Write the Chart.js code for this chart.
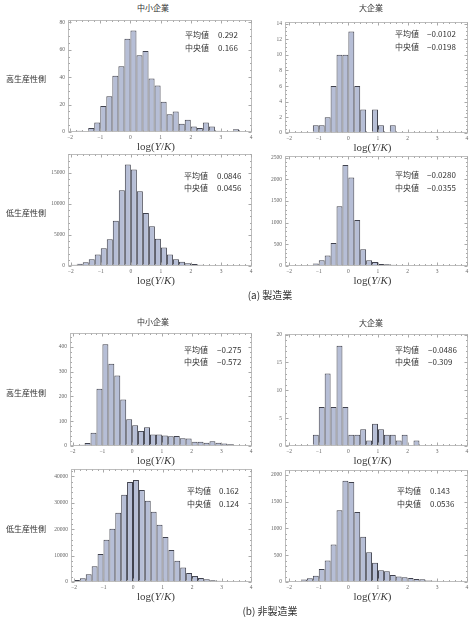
<!DOCTYPE html>
<html><head><meta charset="utf-8">
<script src="https://cdn.jsdelivr.net/npm/chart.js@4.4.1/dist/chart.umd.min.js"></script>
<style>
html,body{margin:0;padding:0;background:#fff;}
body{width:473px;height:619px;position:relative;overflow:hidden;font-family:"Noto Sans CJK JP","Noto Sans",sans-serif;color:#333;}
.t{position:absolute;white-space:nowrap;line-height:1;}
.c{transform:translate(-50%,-50%);}
.l{transform:translate(0,-50%);}
canvas{position:absolute;}
.xl{font-family:"Liberation Serif","DejaVu Serif",serif;font-size:11px;color:#3a3a3a;}
</style></head><body>
<script>
// ---- data ----
const binStart = -2.0;
const binWidth = 0.2;
// counts per 0.2-wide bin starting at -2.0 (30 bins up to 4.0)
const mfgSmallHigh = [0,1,0,3,7,19,26,41,48,68,74,56,59,39,34,22,13,15,6,9,4,3,7,4,1,0,0,2,0,0];
const mfgLargeHigh = [0,0,0,0,1,1,2,6,10,10,13,6,3,0,3,1,0,1,0,0,0,0,0,0,0,0,0,0,0,0];
const mfgSmallLow  = [200,370,600,1100,1850,2850,4300,7300,12200,16350,15550,12050,8550,6400,4400,3000,1850,1100,700,430,320,220,160,130,100,80,65,55,45,40];
const mfgLargeLow  = [15,15,20,25,55,130,240,530,1380,2330,2040,1060,385,130,90,45,40,30,25,20,15,15,12,0,8,8,0,0,0,0];
const nonSmallHigh = [0,5,12,53,231,411,332,284,188,108,84,61,76,46,46,42,39,40,31,30,17,17,13,19,13,10,7,0,0,0];
const nonLargeHigh = [0,0,0,0,2,7,13,7,18,7,2,2,3,1,4,3,2,2,1,2,0,1,0,0,0,0,0,0,0,0];
const nonSmallLow  = [770,1400,2900,6000,10600,16000,20200,26200,33000,37850,38600,34800,30800,26600,21700,17000,12150,8050,5500,3450,2300,1550,1000,640,450,320,250,200,150,120];
const nonLargeLow  = [13,20,45,70,115,245,400,700,1340,1890,1870,1310,845,555,360,220,200,130,105,88,75,55,50,30,25,20,20,15,12,10];

const xTickValues = [-2,-1,0,1,2,3,4];
const yTicksMfgSmallHigh = [0,20,40,60,80];
const yTicksMfgLargeHigh = [0,2,4,6,8,10,12,14];
const yTicksMfgSmallLow  = [0,5000,10000,15000];
const yTicksMfgLargeLow  = [0,500,1000,1500,2000,2500];
const yTicksNonSmallHigh = [0,100,200,300,400];
const yTicksNonLargeHigh = [0,5,10,15,20];
const yTicksNonSmallLow  = [0,10000,20000,30000,40000];
const yTicksNonLargeLow  = [0,500,1000,1500,2000];

const statLabels = ['平均値','中央値'];
const meanValues   = ['0.292','−0.0102','0.0846','−0.0280','−0.275','−0.0486','0.162','0.143'];
const medianValues = ['0.166','−0.0198','0.0456','−0.0355','−0.572','−0.309','0.124','0.0536'];

const colTitles = ['中小企業','大企業'];
const rowTitles = ['高生産性側','低生産性側','高生産性側','低生産性側'];
const captions = ['(a) 製造業','(b) 非製造業'];
const axisLabelHTML = 'log(<i>Y</i>/<i>K</i>)';

// ---- layout (positions & styles only) ----
const panels = [
 {counts:mfgSmallHigh, yt:yTicksMfgSmallHigh, ymax:81.7,  minor:5,    L:68, R:252, T:20,  B:132, xmin:-2.07, xmax:4.03, sx:185, vx:218, sy:35,  k:0},
 {counts:mfgLargeHigh, yt:yTicksMfgLargeHigh, ymax:14.2,  minor:0.5,  L:285,R:468, T:22,  B:133, xmin:-2.14, xmax:4.04, sx:395, vx:427, sy:34,  k:1},
 {counts:mfgSmallLow,  yt:yTicksMfgSmallLow,  ymax:18050, minor:1000, L:68, R:252, T:154, B:266, xmin:-2.09, xmax:4.03, sx:184, vx:217, sy:175.5,k:2},
 {counts:mfgLargeLow,  yt:yTicksMfgLargeLow,  ymax:2539,  minor:100,  L:285,R:468, T:156, B:266, xmin:-2.14, xmax:4.04, sx:395, vx:427, sy:175, k:3},
 {counts:nonSmallHigh, yt:yTicksNonSmallHigh, ymax:456,   minor:20,   L:70, R:252, T:333, B:446, xmin:-2.09, xmax:4.03, sx:184, vx:217, sy:349.5,k:4},
 {counts:nonLargeHigh, yt:yTicksNonLargeHigh, ymax:20.1,  minor:1,    L:285,R:468, T:334, B:446, xmin:-2.14, xmax:4.04, sx:395, vx:428, sy:349.5,k:5},
 {counts:nonSmallLow,  yt:yTicksNonSmallLow,  ymax:42800, minor:2000, L:71, R:252, T:469, B:582, xmin:-2.1,  xmax:4.03, sx:187, vx:219, sy:491, k:6},
 {counts:nonLargeLow,  yt:yTicksNonLargeLow,  ymax:2093,  minor:100,  L:285,R:468, T:470, B:582, xmin:-2.14, xmax:4.04, sx:397, vx:430, sy:491, k:7}
];

function addText(html, x, y, cls, style){
  const d = document.createElement('div');
  d.className = 't ' + cls;
  d.innerHTML = html;
  d.style.left = x + 'px'; d.style.top = y + 'px';
  if (style) d.style.cssText += style;
  document.body.appendChild(d);
}

function fmt(v){ return v < 0 ? '−' + Math.abs(v) : String(v); }

const framePlugin = {
  id:'frame',
  afterDatasetsDraw(chart, args, opts){
    const {ctx, chartArea:a, scales:{x, y}} = chart;
    ctx.save();
    ctx.strokeStyle = '#bdbdbd'; ctx.lineWidth = 1;
    const l = Math.round(a.left) + 0.5, r = Math.round(a.right) - 0.5;
    const t = Math.round(a.top) + 0.5, b = Math.round(a.bottom) - 0.5;
    ctx.strokeRect(l, t, r - l, b - t);
    ctx.strokeStyle = '#a8a8a8';
    ctx.beginPath();
    for (let i = 0; i <= 30; i++) {
      const v = -2 + i * 0.2;
      const px = Math.round(x.getPixelForValue(v)) + 0.5;
      const len = (i % 5 === 0) ? 3 : 1.5;
      ctx.moveTo(px, b); ctx.lineTo(px, b - len);
      ctx.moveTo(px, t); ctx.lineTo(px, t + len);
    }
    const yt = opts.yt, step = yt[1] - yt[0], minor = opts.minor;
    for (let v = 0; v <= y.max + 1e-9; v += minor) {
      const py = Math.round(y.getPixelForValue(v)) + 0.5;
      const isMajor = Math.abs(v / step - Math.round(v / step)) < 1e-6;
      const len = isMajor ? 3 : 1.5;
      ctx.moveTo(l, py); ctx.lineTo(l + len, py);
      ctx.moveTo(r, py); ctx.lineTo(r - len, py);
    }
    ctx.stroke();
    ctx.restore();
  }
};

function makeChart(p){
  const padL = 24, padT = 3, padR = 3, padB = 11;
  const W = p.R - p.L, H = p.B - p.T;
  const cv = document.createElement('canvas');
  cv.width = W + padL + padR; cv.height = H + padT + padB;
  cv.style.left = (p.L - padL) + 'px'; cv.style.top = (p.T - padT) + 'px';
  cv.style.width = cv.width + 'px'; cv.style.height = cv.height + 'px';
  document.body.appendChild(cv);
  const pts = [];
  p.counts.forEach((c, i) => { if (c > 0) pts.push({x: binStart + binWidth * (i + 0.5), y: c}); });
  new Chart(cv, {
    type: 'bar',
    data: {datasets: [{data: pts, backgroundColor: '#b6bed6', borderColor: '#40424e',
      borderWidth: {top: 1, left: 1, right: 1, bottom: 0}, borderSkipped: false,
      barPercentage: 1, categoryPercentage: 1, inflateAmount: 0}]},
    options: {
      responsive: false, animation: false, maintainAspectRatio: false,
      layout: {padding: {left: 0, top: padT, right: padR, bottom: 0}},
      plugins: {legend: {display: false}, tooltip: {enabled: false}, frame: {yt: p.yt, minor: p.minor}},
      scales: {
        x: {type: 'linear', min: p.xmin, max: p.xmax, offset: false,
            grid: {display: false, drawTicks: false}, border: {display: false},
            afterBuildTicks(s){ s.ticks = xTickValues.map(v => ({value: v})); },
            afterFit(s){ s.height = padB; s.paddingLeft = 0; s.paddingRight = 0; },
            ticks: {font: {size: 5.5, family: 'Liberation Serif'}, color: '#666', padding: 2, maxRotation: 0, autoSkip: false,
                    callback: v => fmt(v)}},
        y: {type: 'linear', min: 0, max: p.ymax,
            grid: {display: false, drawTicks: false}, border: {display: false},
            afterBuildTicks(s){ s.ticks = p.yt.map(v => ({value: v})); },
            afterFit(s){ s.width = padL; s.paddingTop = 0; s.paddingBottom = 0; },
            ticks: {font: {size: 5.5, family: 'Liberation Serif'}, color: '#666', padding: 3, autoSkip: false,
                    callback: v => fmt(v)}}
      }
    },
    plugins: [framePlugin]
  });
  // stats text
  addText(statLabels[0], p.sx, p.sy, 'l', 'font-size:8px;');
  addText(meanValues[p.k], p.vx, p.sy, 'l', 'font-size:8px;');
  addText(statLabels[1], p.sx, p.sy + 12.5, 'l', 'font-size:8px;');
  addText(medianValues[p.k], p.vx, p.sy + 12.5, 'l', 'font-size:8px;');
  // axis label
  const cx = (p.k % 2 === 0) ? 156 : 372.5;
  addText(axisLabelHTML, cx, p.B + 14, 'c xl');
}

panels.forEach(makeChart);

// column titles
addText(colTitles[0], 153, 8, 'c', 'font-size:8px;');
addText(colTitles[1], 371, 8, 'c', 'font-size:8px;');
addText(colTitles[0], 153, 322, 'c', 'font-size:8px;');
addText(colTitles[1], 371, 323, 'c', 'font-size:8px;');
// row titles
addText(rowTitles[0], 26, 79, 'c', 'font-size:8px;');
addText(rowTitles[1], 26, 213, 'c', 'font-size:8px;');
addText(rowTitles[2], 26, 393, 'c', 'font-size:8px;');
addText(rowTitles[3], 26, 529, 'c', 'font-size:8px;');
// captions
addText(captions[0], 270, 295, 'c', 'font-size:10px;');
addText(captions[1], 270, 610.5, 'c', 'font-size:10px;');
</script>
</body></html>
